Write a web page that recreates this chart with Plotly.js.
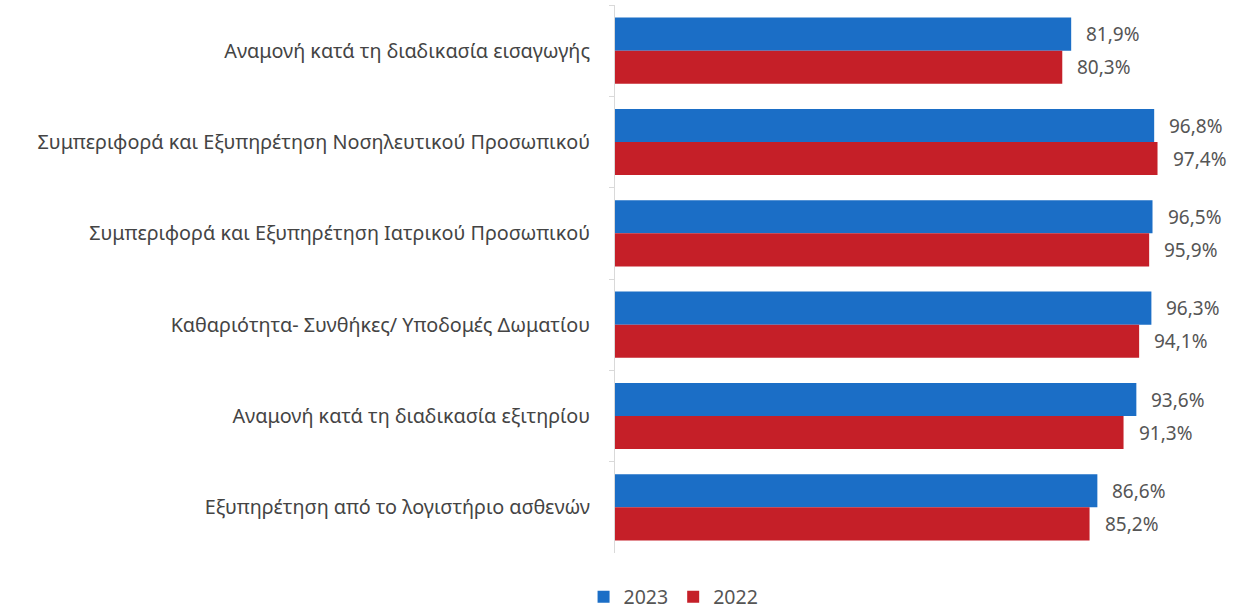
<!DOCTYPE html>
<html><head><meta charset="utf-8">
<script src="https://cdn.plot.ly/plotly-3.0.1.min.js"></script>
<style>html,body{margin:0;padding:0;background:#fff;}</style>
</head><body>
<div id="chart" style="width:1259px;height:610px;"></div>
<script>
const categories = [
  "Αναμονή κατά τη διαδικασία εισαγωγής",
  "Συμπεριφορά και Εξυπηρέτηση Νοσηλευτικού Προσωπικού",
  "Συμπεριφορά και Εξυπηρέτηση Ιατρικού Προσωπικού",
  "Καθαριότητα- Συνθήκες/ Υποδομές Δωματίου",
  "Αναμονή κατά τη διαδικασία εξιτηρίου",
  "Εξυπηρέτηση από το λογιστήριο ασθενών"
];
const values2023 = [81.9, 96.8, 96.5, 96.3, 93.6, 86.6];
const values2022 = [80.3, 97.4, 95.9, 94.1, 91.3, 85.2];
const seriesNames = ["2023", "2022"];
const colors = ["#1b6ec6", "#c51f28"];

const fmt = v => v.toFixed(1).replace(".", ",") + "%";

const traces = [
  {type: "bar", orientation: "h", name: seriesNames[0], y: categories, x: values2023,
   marker: {color: colors[0]}, hoverinfo: "x+name"},
  {type: "bar", orientation: "h", name: seriesNames[1], y: categories, x: values2022,
   marker: {color: colors[1]}, hoverinfo: "x+name"}
];

const labelFont = {family: "Noto Sans, sans-serif", size: 19, color: "#555"};
const annotations = [];
categories.forEach((c, i) => {
  annotations.push({x: values2023[i], y: c, xref: "x", yref: "y", text: fmt(values2023[i]),
    showarrow: false, xanchor: "left", xshift: 13, yshift: 16.5, font: labelFont});
  annotations.push({x: values2022[i], y: c, xref: "x", yref: "y", text: fmt(values2022[i]),
    showarrow: false, xanchor: "left", xshift: 13, yshift: -16.5, font: labelFont});
});

const layout = {
  width: 1259, height: 610,
  margin: {l: 615, r: 87, t: 5, b: 57, pad: 0},
  paper_bgcolor: "#fff", plot_bgcolor: "#fff",
  barmode: "group", bargap: 0.276, bargroupgap: 0,
  separators: ",.",
  font: {family: "Noto Sans, sans-serif", size: 19, color: "#444"},
  xaxis: {range: [0, 100], visible: false, fixedrange: true},
  yaxis: {type: "category", autorange: "reversed", showline: true, linecolor: "#d9d9d9", linewidth: 1,
    ticks: "outside", tickson: "boundaries", ticklen: 5, tickcolor: "#d9d9d9",
    ticklabelstandoff: 20, showgrid: false, zeroline: false,
    tickfont: {family: "Noto Sans, sans-serif", size: 19.8, color: "#444"}},
  showlegend: true,
  legend: {orientation: "h", xref: "container", yref: "container", x: 0.535, y: 0.021,
    xanchor: "center", yanchor: "middle", font: {size: 19.5, color: "#555"},
    itemwidth: 30, tracegroupgap: 0},
  annotations: annotations
};

Plotly.newPlot("chart", traces, layout, {displayModeBar: false, staticPlot: true});
</script>
</body></html>
